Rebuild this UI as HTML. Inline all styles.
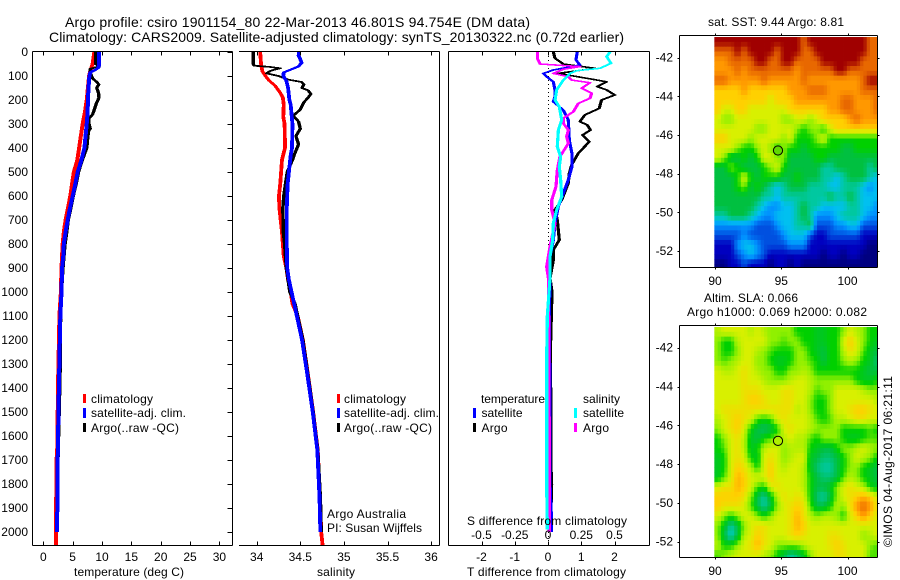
<!DOCTYPE html>
<html>
<head>
<meta charset="utf-8">
<title>Argo profile csiro 1901154_80</title>
<style>
html,body{margin:0;padding:0;background:#fff;}
svg{display:block;}
text{font-family:"Liberation Sans",sans-serif;font-size:12px;fill:#000;}
.title{font-size:14px;}
</style>
</head>
<body>
<svg id="chart" xmlns="http://www.w3.org/2000/svg" width="900" height="580" viewBox="0 0 900 580">
<rect width="900" height="580" fill="#fff"/>
<defs>
<clipPath id="clip-map1"><rect x="714" y="37" width="164" height="230"/></clipPath>
<clipPath id="clip-map2"><rect x="714" y="327" width="164" height="230"/></clipPath>
</defs>
<text class="title" x="65" y="27" textLength="465" lengthAdjust="spacing">Argo profile: csiro 1901154_80 22-Mar-2013 46.801S 94.754E (DM data)</text>
<text class="title" x="49" y="42" textLength="575" lengthAdjust="spacing">Climatology: CARS2009. Satellite-adjusted climatology: synTS_20130322.nc (0.72d earlier)</text>

<g id="map1" clip-path="url(#clip-map1)"></g>
<g id="map2" clip-path="url(#clip-map2)"></g>
<g id="series"></g>
<g id="axes" stroke="#000" stroke-width="1" shape-rendering="crispEdges" fill="none"></g>
<g id="labels"></g>

<text x="74" y="576" textLength="110" lengthAdjust="spacing">temperature (deg C)</text>
<text x="317" y="576" textLength="38" lengthAdjust="spacing">salinity</text>
<text x="467" y="576" textLength="159" lengthAdjust="spacing">T difference from climatology</text>
<text x="467" y="525" textLength="160" lengthAdjust="spacing">S difference from climatology</text>

<g>
<rect x="83" y="394" width="3" height="9" fill="#f00"/>
<text x="91" y="403" textLength="62" lengthAdjust="spacing">climatology</text>
<rect x="83" y="408" width="3" height="10" fill="#00f"/>
<text x="91" y="417" textLength="95" lengthAdjust="spacing">satellite-adj. clim.</text>
<rect x="83" y="423" width="3" height="9" fill="#000"/>
<text x="91" y="432" textLength="88" lengthAdjust="spacing">Argo(..raw -QC)</text>
</g>
<g>
<rect x="337" y="394" width="3" height="9" fill="#f00"/>
<text x="344" y="403" textLength="62" lengthAdjust="spacing">climatology</text>
<rect x="337" y="408" width="3" height="10" fill="#00f"/>
<text x="344" y="417" textLength="95" lengthAdjust="spacing">satellite-adj. clim.</text>
<rect x="337" y="423" width="3" height="9" fill="#000"/>
<text x="344" y="432" textLength="88" lengthAdjust="spacing">Argo(..raw -QC)</text>
</g>
<text x="327" y="518" textLength="79" lengthAdjust="spacing">Argo Australia</text>
<text x="327" y="532" textLength="95" lengthAdjust="spacing">PI: Susan Wijffels</text>

<g>
<text x="481" y="403" textLength="64" lengthAdjust="spacing">temperature</text>
<text x="583" y="403" textLength="37" lengthAdjust="spacing">salinity</text>
<rect x="473" y="408" width="3" height="10" fill="#00f"/>
<text x="481.500" y="417" textLength="41" lengthAdjust="spacing">satellite</text>
<rect x="473" y="423" width="3" height="9" fill="#000"/>
<text x="481.500" y="432" textLength="26" lengthAdjust="spacing">Argo</text>
<rect x="574" y="408" width="3" height="10" fill="#0ff"/>
<text x="583" y="417" textLength="41" lengthAdjust="spacing">satellite</text>
<rect x="574" y="423" width="3" height="9" fill="#f0f"/>
<text x="583" y="432" textLength="26" lengthAdjust="spacing">Argo</text>
</g>

<text x="708" y="26" textLength="136" lengthAdjust="spacing">sat. SST: 9.44 Argo: 8.81</text>
<text x="704" y="302" textLength="94" lengthAdjust="spacing">Altim. SLA: 0.066</text>
<text x="687" y="316" textLength="180" lengthAdjust="spacing">Argo h1000: 0.069 h2000: 0.082</text>
<text transform="translate(892,547) rotate(-90)" x="0" y="0" textLength="171" lengthAdjust="spacing">©IMOS 04-Aug-2017 06:21:11</text>
</svg>

<script>
// ---------- profile data ----------
const tempClimDepth = [0,50,80,100,150,200,250,300,350,400,450,500,550,600,650,700,750,800,900,1000,1100,1400,1650,1660,1850,1860,2054];
const tempClim = [8.7,8.4,8.0,7.8,7.6,7.4,7.1,6.7,6.4,6.1,5.8,5.2,4.9,4.6,4.2,3.8,3.5,3.3,3.1,3.0,2.75,2.5,2.4,2.3,2.25,2.15,2.15];
const tempSatDepth = [0,50,65,75,85,100,150,200,250,300,350,400,450,500,550,600,650,700,750,800,850,900,1000,1100,1400,1700,2000];
const tempSat = [9.5,9.5,9.4,8.8,8.0,7.85,7.7,7.6,7.55,7.4,7.2,7.0,6.5,5.85,5.45,5.0,4.55,4.15,3.8,3.5,3.4,3.2,3.1,2.9,2.65,2.45,2.35];
const tempArgoDepth = [0,50,60,70,90,110,125,135,150,170,190,210,240,260,280,300,320,330,350,400,450,500,550,600,650,700,750,800,900,1000,1100,1350,1400,1700,2000];
const tempArgo = [8.9,8.9,9.5,8.0,8.05,8.4,9.1,9.45,9.1,9.4,9.5,9.1,8.7,8.4,7.7,7.8,8.0,7.7,7.6,7.4,6.65,6.0,5.6,5.1,4.7,4.25,4.0,3.7,3.35,3.1,2.95,2.85,2.8,2.5,2.35];

const salClimDepth = [0,50,80,100,120,140,170,190,220,270,300,400,420,450,500,550,600,650,700,750,800,850,900,950,1000,1050,1100,1200,1325,1492,1658,1853,2000,2054];
const salClim = [34.04,34.05,34.065,34.1,34.145,34.21,34.27,34.3,34.31,34.305,34.32,34.325,34.31,34.29,34.28,34.27,34.255,34.26,34.275,34.29,34.3,34.31,34.34,34.36,34.39,34.41,34.47,34.53,34.58,34.645,34.7,34.725,34.74,34.755];
const salSatDepth = [0,15,30,45,60,75,85,100,120,150,200,220,300,400,430,480,550,650,800,900,950,1000,1050,1100,1200,1325,1492,1658,1853,2000];
const salSat = [34.485,34.48,34.5,34.515,34.48,34.38,34.31,34.305,34.34,34.36,34.375,34.39,34.41,34.405,34.39,34.375,34.355,34.345,34.345,34.35,34.37,34.4,34.43,34.46,34.52,34.573,34.64,34.695,34.72,34.73];
const salArgoDepth = [0,50,57,62,68,75,80,89,100,115,125,135,150,160,175,190,210,240,265,290,320,350,385,420,450,500,600,650,750,800,900,950,1000,1050,1100,1200,1325,1492,1658,1853,2000];
const salArgo = [33.96,33.96,33.97,34.15,34.27,34.19,34.15,34.115,34.25,34.36,34.515,34.54,34.52,34.59,34.62,34.59,34.54,34.5,34.42,34.48,34.5,34.45,34.48,34.44,34.41,34.35,34.31,34.3,34.305,34.32,34.34,34.36,34.38,34.44,34.47,34.53,34.58,34.645,34.7,34.73,34.74];

const diffTArgoDepth = [0,26,50,68,89,114,124,144,158,179,200,235,262,290,304,325,346,374,422,471,506,547,617,658,700,783,825,867,943,1000,1100,1200,1300,1400,1500,1700,1800,1900,2000];
const diffTArgo = [0.16,0.21,0.46,1.41,0.31,1.36,1.76,1.48,1.76,2.01,1.61,1.54,1.11,0.96,1.18,1.28,1.04,1.24,0.91,0.71,0.64,0.61,0.41,0.21,0.28,0.34,0.16,0.16,0.06,0.12,0.1,0.08,0.07,0.08,0.08,0.08,0.11,0.09,0.08];
const diffTSatDepth = [0,33,54,75,89,103,124,158,186,207,242,283,367,422,478,533,589,644,714,783,853,943,1100,1300,1500,1800,1930,2000];
const diffTSat = [0.88,0.84,0.96,0.16,-0.14,-0.04,0.16,0.21,0.21,0.16,0.46,0.61,0.64,0.72,0.72,0.61,0.46,0.31,0.21,0.16,0.06,0.06,0.04,0.05,0.06,0.06,0.1,0.1];
const diffSArgoDepth = [0,26,50,61,72,89,103,117,128,151,172,193,214,249,276,297,325,353,381,436,492,561,617,658,714,811,894,943,1100,1300,1600,1900,2000];
const diffSArgo = [-0.08,-0.08,-0.06,0.24,0.115,0.04,0.153,0.178,0.316,0.253,0.328,0.316,0.228,0.19,0.115,0.115,0.153,0.14,0.153,0.09,0.07,0.06,0.028,0.028,0.053,0.015,-0.01,0.003,0.005,0.005,0.01,0.01,0.01];
const diffSSatDepth = [0,19,47,68,78,89,117,158,200,228,283,325,394,436,478,533,603,658,714,783,853,943,1100,1280,1400,1800,1990];
const diffSSat = [0.466,0.441,0.474,0.391,0.216,0.165,0.115,0.065,0.053,0.085,0.103,0.078,0.07,0.095,0.085,0.095,0.103,0.065,0.04,0.035,0.015,0.015,-0.005,-0.01,-0.01,-0.01,-0.005];

// ---------- tick labels ----------
const depthTicks = [0,100,200,300,400,500,600,700,800,900,1000,1100,1200,1300,1400,1500,1600,1700,1800,1900,2000];
const tempTicks = [0,5,10,15,20,25,30];
const salTicks = [34,34.5,35,35.5,36];
const diffTTicks = [-2,-1,0,1,2];
const diffSTicks = [-0.5,-0.25,0,0.25,0.5];
const lonTicks = [90,95,100];
const latTicks = [-42,-44,-46,-48,-50,-52];

// ---------- map data (colour level per half-degree cell) ----------
const profileLon = 94.754;
const profileLat = -46.801;
const sstLevels = [
[13,13,13,13,13,13,13,13,13,13,13,13,13,12,13,13,13,13,13,13,13,13,13,12,12],
[12,12,12,13,12,13,13,13,13,12,13,13,13,12,12,13,13,13,13,13,13,13,13,12,12],
[11,11,12,12,12,12,13,13,12,12,13,13,12,12,12,12,13,13,13,13,13,13,12,12,12],
[11,11,11,12,11,12,12,12,12,12,12,12,11,12,12,12,12,12,13,13,12,12,12,12,12],
[12,12,11,11,11,11,11,12,11,11,11,11,11,12,11,11,11,11,11,11,11,11,12,13,13],
[10,10,10,10,11,10,10,10,10,10,10,11,11,11,12,12,12,11,11,11,11,11,12,12,12],
[10,10,10,10,10,10,10,10,9,10,10,10,11,11,11,11,11,11,11,12,12,11,11,11,12],
[10,9,9,10,10,9,9,9,9,9,9,10,10,10,10,10,10,11,11,12,12,11,11,11,12],
[9,8,8,9,9,9,9,9,9,9,8,8,9,9,8,9,10,10,10,10,11,12,11,11,11],
[9,9,9,9,9,9,8,8,9,9,9,9,8,7,8,8,7,9,10,10,10,10,10,10,10],
[10,10,9,9,9,8,9,9,9,9,8,9,7,7,7,8,9,7,7,7,7,7,7,7,7],
[9,9,9,8,7,7,8,9,8,7,8,7,7,6,7,7,7,7,7,6,6,7,7,7,7],
[9,8,6,6,7,6,7,9,9,8,8,6,6,6,6,7,7,6,6,6,6,6,6,6,6],
[6,6,8,7,6,6,6,7,8,9,7,6,6,6,6,6,5,5,6,6,6,6,6,5,6],
[6,6,6,7,9,7,6,7,7,7,6,6,7,6,6,6,5,5,4,5,6,6,6,5,4],
[6,6,6,7,8,6,7,6,5,4,5,6,6,6,5,5,5,4,4,5,5,5,4,3,4],
[6,6,6,6,6,6,6,5,5,4,5,5,5,5,5,5,5,6,5,5,6,5,4,4,4],
[6,6,6,6,6,6,5,4,3,3,4,4,5,6,5,5,4,4,4,4,5,5,4,4,3],
[5,5,6,6,6,5,4,3,3,4,4,4,5,6,5,3,3,3,4,5,5,5,4,3,3],
[3,3,3,3,3,3,2,2,2,3,4,4,5,5,6,2,2,2,3,3,4,4,2,2,2],
[2,2,2,2,3,2,2,2,2,2,3,4,4,4,2,1,1,2,2,2,2,2,1,1,1],
[1,1,1,3,4,4,3,2,2,2,2,3,3,3,1,1,1,1,1,1,1,1,1,0,0],
[1,1,1,2,3,4,3,2,1,1,1,1,1,1,1,1,0,1,1,0,1,1,0,0,0],
[0,0,1,1,2,1,1,1,0,1,1,0,1,0,0,0,0,0,0,0,0,0,0,0,0]
];
const slaLevels = [
[8.5,9,9,9,9,8.5,9,8.5,8,8,8,8,7,7,7,6.5,6.5,7,7,8,9,8.5,8,7,7],
[8,7,7,8.5,9,9,9,9,8,8,7.5,8,8,7,7,6.5,6.5,7,7,9,10,9,8,7,6.5],
[8,7,7,8,9,9,8.5,8,7.5,7,7,7,8,8,7,6.5,6,7,7,8.5,9.5,9,7.5,6.5,6],
[8,7.5,8,8.5,9,9,8,8,7,6.5,6.5,7,8,8,7.5,7,6,7,7,8,8.5,8,7,6.5,5.5],
[9,8.5,8.5,9,9.5,9,8.5,8,8,7,7,8,8,8.5,8,7,7,7,7,7,7,7,6.5,6,6],
[9,9,9,9,9.5,9,9,8.5,8,8,8,8.5,9,9,8.5,8,8,8,8,8,8,7,6.5,6.5,7],
[9,9,9,9,9.5,9.5,9.5,9,9,9,9.5,9.5,9,9,8.5,7.5,8,8,9,9,9,9,8.5,8,8],
[9,9,9,9,9.5,10,10,9.5,9,9,9.5,9.5,9,9,8,7,7,8,9,9,9,9,9,9,8.5],
[9,9.5,9.5,9.5,9.5,9.5,9.5,9.5,9.5,9.5,9.5,9.5,8.5,9,8,7,7,8,9,9,9.5,10,10,9.5,9],
[8.5,9,9.5,10,9.5,9,7.5,7,7.5,9,9.5,9,9,9,8.5,7.5,7,7.5,8.5,8.5,9,9.5,9.5,9,9],
[8,9,9.5,10,9,7,6,5.5,6,7,9,9.5,9,9,8.5,8,8,8,8,7,7,7,7,7.5,7],
[7,8,9,9.5,8.5,6.5,6,7,7.5,8,8.5,9,8.5,8.5,7.5,7,8,8,8,7,6.5,6.5,7,7.5,7.5],
[7,7.5,9,9.5,8.5,6.5,7,8.5,9,9,8,8.5,8.5,8.5,7,6.5,6,6,7,8,8,8.5,9,8.5,8],
[6.5,7,9,9.5,9,7,6.5,9,9.5,9,8,8.5,9,9,6.5,6,5.5,5.5,6,7,8,9,8.5,8,7],
[6.5,7,9,10,9.5,8.5,7,9,10,9,8.5,9,9,8.5,6.5,5.5,5,5,6,7,8,8,7,6.5,6],
[6.5,7.5,9,10.5,10,9,9,9,10,9,9,9,9,8.5,7,6,5.5,5.5,6,7.5,8.5,8,7,6.5,6],
[9,9.5,9.5,10.5,10,9,7.5,7,9,9.5,9,9,9,8.5,7,6,6,6.5,8,9,9.5,9,8.5,7,6.5],
[10,10,10,10,9.5,8,6,5,6.5,8.5,9.5,9,9.5,9,7,5.5,5,6,8,9,9.5,10,10.5,10,9],
[10,9.5,9.5,9.5,9,7.5,6,5,6,8,9,9.5,10,9.5,7.5,6,6,7,8.5,8,9.5,11,12,11,9.5],
[9,8,7,8,9,9,8,7,8,9,9,9.5,10.5,9.5,8.5,8,8.5,8.5,8,7,9,10,11,10,9],
[8,6.5,5,6,8,9,9.5,9.5,9,9,9,9.5,10.5,10,9,9,9,9,9,9,9,9,9,9,9],
[8,6,4.5,6,8.5,9,10,9.5,9,9,9,9.5,10,9.5,9,9,9,9.5,9.5,9,9,9,8,8.5,9],
[8.5,7,7,8,9,9.5,10.5,9.5,9,8,8,8,8,8.5,9,9,9,9.5,10,9.5,9,9,9,8,7.5],
[7.5,8,8.5,9,9,9,9,8.5,8,7,6,5,5.5,6.5,8,9,9,9,9.5,9.5,9,9,9,7.5,7.5]
];
const paletteR = [0,0,0,0,0,0,0,0,144,216,255,255,232,160];
const paletteG = [0,0,80,144,192,200,192,208,240,240,208,152,104,0];
const paletteB = [128,192,224,255,240,160,64,0,0,0,0,0,0,0];

// ---------- axis functions ----------
const NS = 'http://www.w3.org/2000/svg';
const penStretch = 2;
function yDepth(d){return 52 + d*0.24;}
function xTemp(v){return 43.3 + v*5.87;}
function xSal(v){return 256.7 + (v-34)*87.2;}
function xDiffT(v){return 548 + v*33.25;}
function xDiffS(v){return 548 + v*133;}
function xLon(v){return 715 + (v-90)*13.25;}
function yLat1(v){return 57.7 + (-42-v)*19.33;}
function yLat2(v){return 347.7 + (-42-v)*19.4;}

const seriesG = document.getElementById('series');
const axesG = document.getElementById('axes');
const labelsG = document.getElementById('labels');

// Lines are drawn with a pen wider than it is tall, like the plotting package's thick lines.
function drawLine(depths, values, xf, color, width, name){
  const p = document.createElementNS(NS,'polyline');
  
  
  p.setAttribute('points', depths.map((d,i)=>(xf(values[i])/penStretch).toFixed(2)+','+yDepth(d).toFixed(1)).join(' '));
  p.setAttribute('transform','scale('+penStretch+',1)');
  p.setAttribute('fill','none');
  p.setAttribute('stroke',color);
  p.setAttribute('stroke-width',width);
  p.setAttribute('stroke-linejoin','round');
  p.setAttribute('shape-rendering','crispEdges');
  seriesG.appendChild(p);
}

function seg(x1,y1,x2,y2,name){
  const l = document.createElementNS(NS,'line');
  
  
  l.setAttribute('x1',x1);
  l.setAttribute('y1',y1);
  l.setAttribute('x2',x2);
  l.setAttribute('y2',y2);
  axesG.appendChild(l);
}

function label(x,y,txt,anchor,name){
  const t = document.createElementNS(NS,'text');
  
  
  t.setAttribute('x',x);
  t.setAttribute('y',y);
  t.setAttribute('text-anchor',anchor);
  t.textContent = txt;
  labelsG.appendChild(t);
}

// ---------- series ----------
const dots = document.createElementNS(NS,'line');


dots.setAttribute('x1',xDiffT(0)+0.5);
dots.setAttribute('x2',xDiffT(0)+0.5);
dots.setAttribute('y1',52);
dots.setAttribute('y2',545);
dots.setAttribute('stroke','#000');
dots.setAttribute('stroke-dasharray','1 3');
seriesG.appendChild(dots);

drawLine(tempClimDepth,tempClim,xTemp,'#f00',2,'temperature-climatology-line');
drawLine(tempArgoDepth,tempArgo,xTemp,'#000',1.7,'temperature-argo-line');
drawLine(tempSatDepth,tempSat,xTemp,'#00f',2,'temperature-satellite-line');
drawLine(salClimDepth,salClim,xSal,'#f00',1.9,'salinity-climatology-line');
drawLine(salArgoDepth,salArgo,xSal,'#000',1.7,'salinity-argo-line');
drawLine(salSatDepth,salSat,xSal,'#00f',1.9,'salinity-satellite-line');
drawLine(diffTArgoDepth,diffTArgo,xDiffT,'#000',1.6,'t-difference-argo-line');
drawLine(diffTSatDepth,diffTSat,xDiffT,'#00f',1.6,'t-difference-satellite-line');
drawLine(diffSArgoDepth,diffSArgo,xDiffS,'#f0f',1.6,'s-difference-argo-line');
drawLine(diffSSatDepth,diffSSat,xDiffS,'#0ff',1.6,'s-difference-satellite-line');

// ---------- maps ----------
function levelColor(v){
  const a = Math.max(0,Math.min(13,v));
  const i = Math.min(12,Math.floor(a));
  const f = a-i;
  const r = Math.round(paletteR[i]+(paletteR[i+1]-paletteR[i])*f);
  const g = Math.round(paletteG[i]+(paletteG[i+1]-paletteG[i])*f);
  const b = Math.round(paletteB[i]+(paletteB[i+1]-paletteB[i])*f);
  return 'rgb('+r+','+g+','+b+')';
}
function sample(rows,rIn,cIn){
  const r = Math.max(0,rIn), c = Math.max(0,cIn);
  const r0 = Math.min(rows.length-1,Math.floor(r));
  const r1 = Math.min(rows.length-1,r0+1);
  const fr = r-Math.floor(r);
  const c0 = Math.min(rows[r0].length-1,Math.floor(c));
  const c1 = Math.min(rows[r0].length-1,c0+1);
  const fc = c-Math.floor(c);
  const top = rows[r0][c0]*(1-fc)+rows[r0][c1]*fc;
  const bot = rows[r1][c0]*(1-fc)+rows[r1][c1]*fc;
  return top*(1-fr)+bot*fr;
}
function drawMap(id,rows,yf,name){
  const g = document.getElementById(id);
  const lon0 = 89.95, lat0 = -40.93, step = 0.25;
  for(let r=0;r<rows.length*2;r++){
    for(let c=0;c<rows[0].length*2;c++){
      const x0 = xLon(lon0+c*step), x1 = xLon(lon0+(c+1)*step);
      const y0 = yf(lat0-r*step), y1 = yf(lat0-(r+1)*step);
      const cell = document.createElementNS(NS,'rect');
      
      
      cell.setAttribute('x',x0.toFixed(2));
      cell.setAttribute('y',y0.toFixed(2));
      cell.setAttribute('width',(x1-x0+0.4).toFixed(2));
      cell.setAttribute('height',(y1-y0+0.4).toFixed(2));
      cell.setAttribute('fill',levelColor(sample(rows,(r-0.5)/2,(c-0.5)/2)));
      g.appendChild(cell);
    }
  }
}
drawMap('map1',sstLevels,yLat1,'sst-map-cell');
drawMap('map2',slaLevels,yLat2,'sla-map-cell');

function marker(yf,fill,name){
  const c = document.createElementNS(NS,'circle');
  
  
  c.setAttribute('cx',xLon(profileLon));
  c.setAttribute('cy',yf(profileLat));
  c.setAttribute('r',4.6);
  c.setAttribute('fill',fill);
  c.setAttribute('stroke','#000');
  c.setAttribute('stroke-width',1);
  document.getElementById('chart').appendChild(c);
}
marker(yLat1,'#60d800','sst-profile-marker');
marker(yLat2,'#b0f000','sla-profile-marker');

// ---------- frames and ticks ----------
const T = 51.5, B = 545.5;
seg(32.5,T,232.5,T,'temperature-frame-top');
seg(32.5,B,232.5,B,'temperature-frame-bottom');
seg(32.5,T,32.5,B,'temperature-frame-left');
seg(232.5,T,232.5,B,'temperature-frame-right');
seg(239,T,439.5,T,'salinity-frame-top');
seg(239,B,439.5,B,'salinity-frame-bottom');
seg(439.5,T,439.5,B,'salinity-frame-right');
seg(448.5,T,649.5,T,'difference-frame-top');
seg(448.5,B,649.5,B,'difference-frame-bottom');
seg(448.5,T,448.5,B,'difference-frame-left');
seg(649.5,T,649.5,B,'difference-frame-right');

depthTicks.forEach(d=>{
  const y = Math.round(yDepth(d))+0.5;
  seg(227.5,y,232.5,y,'depth-tick-right');
  label(28,yDepth(d)+4,String(d),'end','depth-tick-label');
});
tempTicks.forEach(v=>{
  const x = Math.round(xTemp(v))+0.5;
  seg(x,T,x,T+4,'temperature-tick-top');
  seg(x,B,x,B-4,'temperature-tick-bottom');
  label(xTemp(v),561,String(v),'middle','temperature-tick-label');
});
salTicks.forEach(v=>{
  const x = Math.round(xSal(v))+0.5;
  seg(x,T,x,T+4,'salinity-tick-top');
  seg(x,B,x,B-4,'salinity-tick-bottom');
  label(xSal(v),561,String(v),'middle','salinity-tick-label');
});
diffTTicks.forEach(v=>{
  const x = Math.round(xDiffT(v))+0.5;
  seg(x,T,x,T+4,'t-difference-tick-top');
  seg(x,B,x,B-4,'t-difference-tick-bottom');
  label(xDiffT(v),561,String(v),'middle','t-difference-tick-label');
});
diffSTicks.forEach(v=>{
  label(xDiffS(v),539,String(v),'middle','s-difference-tick-label');
});

function mapFrame(top,bottom,yf,labelY,prefix){
  const L = 679.5, R = 877.5;
  seg(L,top,R,top,prefix+'-frame-top');
  seg(L,bottom,R,bottom,prefix+'-frame-bottom');
  seg(L,top,L,bottom,prefix+'-frame-left');
  seg(R,top,R,bottom,prefix+'-frame-right');
  lonTicks.forEach(v=>{
    const x = Math.round(xLon(v))+0.5;
    seg(x,top,x,top-2,prefix+'-lon-tick-top');
    seg(x,bottom,x,bottom+2,prefix+'-lon-tick-bottom');
    label(xLon(v),labelY,String(v),'middle',prefix+'-lon-tick-label');
  });
  latTicks.forEach(v=>{
    const y = Math.round(yf(v))+0.5;
    seg(L,y,L-2,y,prefix+'-lat-tick-left');
    seg(R,y,R+2,y,prefix+'-lat-tick-right');
    label(673,yf(v)+4,String(v),'end',prefix+'-lat-tick-label');
  });
}
mapFrame(35.5,267.5,yLat1,285,'sst-map');
mapFrame(325.5,557.5,yLat2,575,'sla-map');
</script>
</body>
</html>
